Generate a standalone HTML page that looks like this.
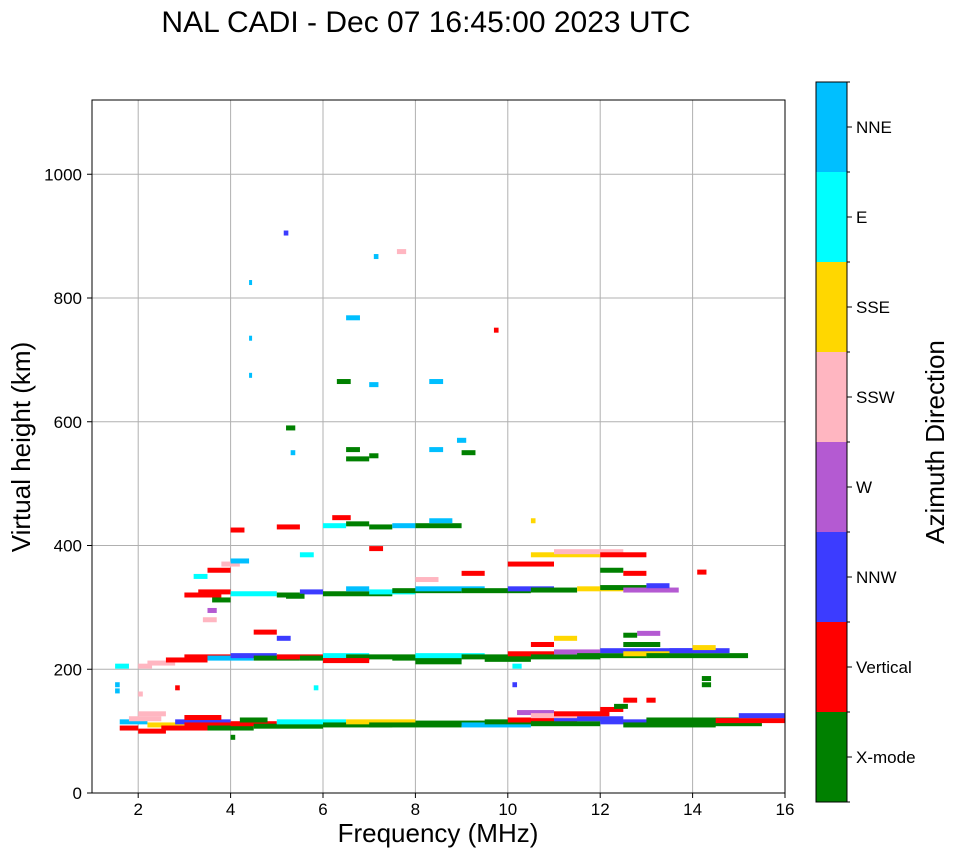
<!DOCTYPE html>
<html><head><meta charset="utf-8">
<style>
body{margin:0;background:#fff;font-family:"Liberation Sans",sans-serif;}
svg text{font-family:"Liberation Sans",sans-serif;}
</style></head>
<body>
<svg id="chart" width="958" height="857" viewBox="0 0 958 857" xmlns="http://www.w3.org/2000/svg">
<text x="426" y="32" font-size="30" text-anchor="middle">NAL CADI - Dec 07 16:45:00 2023 UTC</text>
<g id="grid"></g>
<g id="marks"></g>
<rect x="92" y="100" width="693" height="693" fill="none" stroke="#000" stroke-width="1"/>
<g id="axes"></g>
<text x="438" y="842" font-size="26" text-anchor="middle">Frequency (MHz)</text>
<text transform="translate(30,447) rotate(-90)" font-size="26" text-anchor="middle">Virtual height (km)</text>
<g id="cbar"></g>
<text transform="translate(944,442) rotate(-90)" font-size="26" text-anchor="middle">Azimuth Direction</text>
</svg>
<script>
const xTicks=[2,4,6,8,10,12,14,16];
const yTicks=[0,200,400,600,800,1000];
const dirNames=["X-mode","Vertical","NNW","W","SSW","SSE","E","NNE"];
const dirColors=["#008000","#ff0000","#3c3cff","#b45ad2","#ffb6c1","#ffd700","#00ffff","#00bfff"];
// segment start frequency (MHz)
const segF0=[
1.6,1.6,1.8,2.0,2.2,2.5,2.8,3.0,3.5,4.0,
4.5,5.0,6.0,6.5,7.0,8.0,9.0,9.5,10.0,10.5,
11.0,12.0,12.5,13.0,14.0,14.5,15.0,10.2,10.5,11.0,
12.0,12.5,13.0,12.3,2.0,3.0,4.2,1.5,1.5,4.0,
2.2,2.6,3.0,3.5,4.0,4.5,5.0,5.5,6.0,6.5,
7.5,8.0,9.0,10.0,10.5,11.0,11.5,12.0,12.5,13.0,
13.5,14.0,12.5,12.8,12.5,14.2,14.2,10.5,11.0,6.0,
8.0,9.5,1.5,2.0,3.4,3.5,4.5,5.0,2.0,2.8,
3.0,3.3,4.0,5.0,5.5,6.0,6.5,7.0,7.5,8.0,
9.0,10.0,10.5,11.5,12.0,12.5,13.0,3.2,3.5,3.8,
10.0,10.5,11.0,12.0,12.0,12.5,14.1,9.0,8.0,3.6,
4.0,5.0,6.0,6.5,7.0,7.5,8.0,8.3,6.2,10.5,
6.5,6.5,7.0,8.3,9.0,8.9,5.2,5.3,6.3,7.0,
8.3,6.5,5.15,7.6,7.1,9.7,4.4,4.4,4.4,5.8,
10.1,10.1,5.2,4.0,5.5,7.0];
// segment end frequency (MHz)
const segF1=[
2.0,2.2,2.5,2.6,3.0,3.5,4.0,4.2,4.5,5.0,
6.0,6.5,7.5,8.0,9.0,10.0,10.5,11.0,11.5,12.0,
12.5,14.0,14.5,15.0,15.5,16,16,11.0,11.5,12.2,
12.5,12.8,13.2,12.6,2.6,3.8,4.8,1.6,1.6,4.1,
2.8,3.5,4.0,4.5,5.0,5.5,6.0,7.0,7.0,8.0,
9.0,9.5,10.5,11.0,12.0,12.0,13.0,14.0,13.5,15.2,
14.8,14.5,13.3,13.3,12.8,14.4,14.4,11.0,11.5,7.0,
9.0,10.5,1.8,2.3,3.7,3.7,5.0,5.3,2.1,2.9,
3.8,4.0,5.0,5.5,6.0,7.5,7.0,8.0,9.0,9.5,
10.5,11.0,11.5,12.5,13.0,13.7,13.5,3.5,4.0,4.2,
11.0,12.0,12.5,13.0,12.5,13.0,14.3,9.5,8.5,4.0,
4.3,5.5,6.5,7.0,7.5,8.0,9.0,8.8,6.6,10.6,
6.8,7.0,7.2,8.6,9.3,9.1,5.4,5.4,6.6,7.2,
8.6,6.8,5.25,7.8,7.2,9.8,4.45,4.45,4.45,5.9,
10.2,10.3,5.6,4.4,5.8,7.3];
// segment virtual height (km)
const segH=[
105,115,120,100,110,105,115,110,105,112,
108,115,110,115,110,113,110,115,118,112,
120,115,110,118,112,117,125,130,125,128,
135,150,150,140,128,122,118,175,165,90,
210,215,220,218,222,218,220,218,222,220,
218,222,220,225,220,228,222,230,225,222,
230,235,240,258,255,185,175,240,250,214,
212,216,205,205,280,295,260,250,160,170,
320,325,322,320,325,322,330,325,327,330,
327,330,328,330,332,328,335,350,360,370,
370,385,390,385,360,355,357,355,345,312,
425,430,432,435,430,432,432,440,445,440,
555,540,545,555,550,570,590,550,665,660,
665,768,905,875,867,748,825,735,675,170,
175,205,318,375,385,395];
// segment azimuth direction index
const segDir=[
1,7,4,1,5,1,2,1,0,1,
0,6,0,5,0,0,7,0,1,0,
2,2,0,0,0,1,2,3,4,1,
1,1,1,0,4,1,0,7,7,0,
4,1,1,7,2,0,1,0,6,0,
0,6,0,1,0,3,0,2,5,0,
2,5,0,3,0,0,0,1,5,1,
0,0,6,4,4,3,1,2,4,1,
1,1,6,0,2,0,7,6,0,7,
0,2,0,5,0,3,2,6,1,4,
1,5,4,1,0,1,1,1,4,0,
1,1,6,0,0,7,0,7,1,5,
0,0,0,7,0,7,0,7,0,7,
7,7,2,4,7,1,7,7,7,6,
2,6,0,7,6,1];

const X0=92,X1=785,Y0=793,Y1=100;
const xS=f=>X0+(f-1)/(16-1)*(X1-X0);
const yS=h=>Y0-h/1120*(Y0-Y1);
const NS="http://www.w3.org/2000/svg";
const mk=(t,a,p)=>{const e=document.createElementNS(NS,t);for(const k in a)e.setAttribute(k,a[k]);p.appendChild(e);return e;};
const grid=document.getElementById('grid'),axes=document.getElementById('axes'),marks=document.getElementById('marks'),cbar=document.getElementById('cbar');
xTicks.forEach(v=>{const x=xS(v);
 let l=mk('line',{x1:x,x2:x,y1:Y1,y2:Y0,stroke:'#b0b0b0','stroke-width':1},grid);
 
 
 mk('line',{x1:x,x2:x,y1:Y0,y2:Y0+5,stroke:'#000'},axes);
 let t=mk('text',{x:x,y:Y0+22,'font-size':17,'text-anchor':'middle'},axes);t.textContent=v;
 
 });
yTicks.forEach(v=>{const y=yS(v);
 let l=mk('line',{x1:X0,x2:X1,y1:y,y2:y,stroke:'#b0b0b0','stroke-width':1},grid);
 
 
 mk('line',{x1:X0-5,x2:X0,y1:y,y2:y,stroke:'#000'},axes);
 let t=mk('text',{x:X0-10,y:y+6,'font-size':17,'text-anchor':'end'},axes);t.textContent=v;
 
 });
const n=Math.min(segF0.length,segF1.length,segH.length,segDir.length);
for(let i=0;i<n;i++){
 const x=xS(segF0[i]),w=Math.max(3,xS(segF1[i])-x);
 const r=mk('rect',{x:x,y:yS(segH[i])-2.5,width:w,height:5,fill:dirColors[segDir[i]]||'#008000'},marks);
 
 
}
const cy0=82,ch=90;
dirNames.forEach((nm,i)=>{const y=cy0+(7-i)*ch;
 const r=mk('rect',{x:816,y:y,width:31,height:ch,fill:dirColors[i]},cbar);
 
 
 mk('line',{x1:847,x2:852,y1:y+ch/2,y2:y+ch/2,stroke:'#000'},cbar);
 const t=mk('text',{x:856,y:y+ch/2+6,'font-size':17},cbar);t.textContent=nm;
 
 });
for(let i=0;i<=8;i++){mk('line',{x1:847,x2:850,y1:cy0+i*ch,y2:cy0+i*ch,stroke:'#000'},cbar);}
const fr=mk('rect',{x:816,y:cy0,width:31,height:8*ch,fill:'none',stroke:'#000'},cbar);


</script>
</body></html>
